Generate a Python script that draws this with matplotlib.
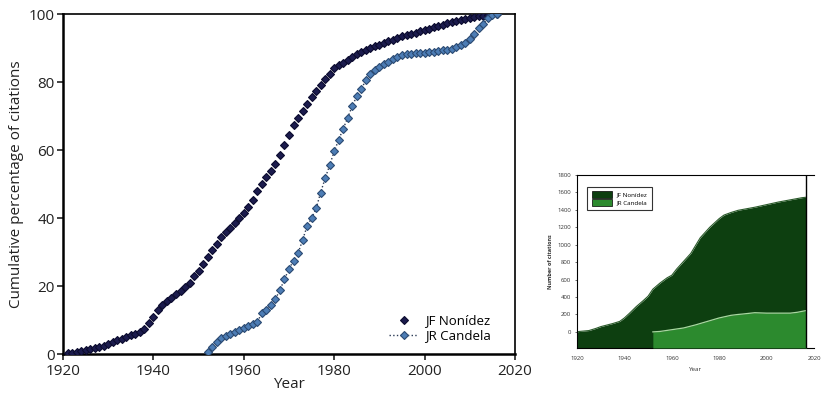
import matplotlib
matplotlib.use("Agg")
import matplotlib.pyplot as plt
from matplotlib import font_manager
from matplotlib.patches import Patch

names = {f.name for f in font_manager.fontManager.ttflist}
main_font = [f for f in ["Liberation Sans Narrow", "Open Sans", "DejaVu Sans"] if f in names]
plt.rcParams['font.family'] = main_font

# ---------------- data: cumulative percentage (main panel) ----------------
nonidez_years = list(range(1921, 2017))
nonidez_pct = [0.2, 0.4, 0.7, 0.9, 1.2, 1.5, 1.8, 2.1, 2.5, 3.0,
               3.5, 4.0, 4.5, 5.0, 5.5, 6.0, 6.6, 7.4, 9.0, 11.0,
               13.0, 14.5, 15.6, 16.6, 17.6, 18.5, 19.8, 21.0, 22.8, 24.5,
               26.5, 28.5, 30.5, 32.5, 34.4, 35.8, 37.2, 38.6, 40.0, 41.5,
               43.2, 45.3, 47.8, 50.0, 52.0, 53.8, 56.0, 58.5, 61.5, 64.3,
               67.3, 69.5, 71.5, 73.5, 75.5, 77.3, 79.0, 80.8, 82.5, 84.2,
               84.9, 85.6, 86.4, 87.3, 88.1, 88.8, 89.4, 90.0, 90.5, 91.0,
               91.5, 92.0, 92.5, 93.0, 93.4, 93.8, 94.2, 94.5, 94.9, 95.3,
               95.7, 96.1, 96.5, 96.9, 97.3, 97.7, 98.0, 98.3, 98.6, 98.8,
               99.0, 99.3, 99.5, 99.7, 99.9, 100.0]

candela_years = list(range(1952, 2017))
candela_pct = [0.7, 2.2, 3.4, 4.6, 5.3, 5.9, 6.5, 7.0, 7.6, 8.1,
               8.8, 9.5, 12.0, 13.0, 14.5, 16.2, 18.8, 22.0, 25.0, 27.5,
               29.6, 33.5, 37.6, 40.0, 42.8, 47.5, 51.7, 55.5, 59.6, 63.0,
               66.3, 69.5, 73.0, 75.8, 78.0, 80.5, 82.3, 83.5, 84.4, 85.2,
               86.0, 86.7, 87.3, 87.8, 88.1, 88.3, 88.4, 88.5, 88.6, 88.8,
               88.9, 89.1, 89.3, 89.5, 89.8, 90.2, 90.8, 91.6, 92.6, 94.2,
               95.8, 97.2, 98.8, 99.6, 100.0]

# ---------------- data: number of citations (small panel) ----------------
count_years_n = [1920, 1921, 1925, 1928, 1930, 1935, 1938, 1940, 1942, 1945,
                 1948, 1950, 1952, 1955, 1958, 1960, 1962, 1965, 1968, 1970,
                 1972, 1974, 1976, 1978, 1980, 1982, 1985, 1988, 1990, 1995,
                 2000, 2005, 2010, 2015, 2016.8]
count_n = [0, 5, 15, 40, 60, 95, 120, 160, 210, 290,
           360, 410, 490, 560, 620, 650, 720, 810, 900, 990,
           1080, 1140, 1200, 1250, 1300, 1340, 1370, 1395, 1405, 1430,
           1460, 1490, 1515, 1540, 1545]
count_years_c = [1952, 1955, 1960, 1965, 1970, 1975, 1980, 1985, 1988, 1990,
                 1995, 2000, 2005, 2010, 2013, 2016.8]
count_c = [0, 5, 25, 45, 80, 120, 160, 190, 200, 205,
           220, 215, 215, 215, 225, 245]

main_ticks_x = [1920, 1940, 1960, 1980, 2000, 2020]
main_ticks_y = [0, 20, 40, 60, 80, 100]
small_ticks_x = [1920, 1940, 1960, 1980, 2000, 2020]
small_ticks_y = [0, 200, 400, 600, 800, 1000, 1200, 1400, 1600, 1800]

fig = plt.figure(figsize=(8.21, 3.95), dpi=100)

# ---------------- main panel ----------------
ax = fig.add_axes([63/821, 41/395, 452/821, 340/395])
ax.plot(nonidez_years, nonidez_pct, linestyle='none', marker='D', markersize=4.5,
        markerfacecolor='#1b1b4d', markeredgecolor='#0b0b2e', markeredgewidth=0.8,
        label='JF Nonídez', zorder=3)
ax.plot(candela_years, candela_pct, linestyle=':', color='#2a3a55', linewidth=1.0,
        marker='D', markersize=4.5, markerfacecolor='#4d7db5', markeredgecolor='#2b4a72',
        markeredgewidth=0.8, label='JR Candela', zorder=3)
ax.set_xlim(1920, 2020)
ax.set_ylim(0, 100)
ax.set_xticks(main_ticks_x)
ax.set_yticks(main_ticks_y)
ax.tick_params(direction='out', length=4, width=1.2, labelsize=11, colors='#222222')
ax.tick_params(axis='x', pad=3)
ax.tick_params(axis='y', pad=2)
for s in ['left', 'bottom']:
    ax.spines[s].set_linewidth(1.8)
for s in ['top', 'right']:
    ax.spines[s].set_linewidth(1.2)
ax.set_xlabel('Year', fontsize=11, labelpad=-1, color='#222222')
ax.set_ylabel('Cumulative percentage of citations', fontsize=11, labelpad=3, color='#222222')
leg = ax.legend(loc='lower right', frameon=False, fontsize=9.5, handlelength=2.2,
                handletextpad=0.5, borderaxespad=0.6, labelspacing=0.15,
                bbox_to_anchor=(0.975, -0.005))

# ---------------- small panel ----------------
ax2 = fig.add_axes([577/821, 47/395, 237/821, 173/395])
ylow = -185
ax2.fill_between(count_years_n, ylow, count_n, color='#0d3f10', linewidth=0, zorder=1)
ax2.plot(count_years_n, count_n, color='#2a5a2a', linewidth=0.8, zorder=2)
ax2.fill_between(count_years_c, ylow, count_c, color='#2c8a2e', linewidth=0, zorder=3)
ax2.plot(count_years_c, count_c, color='#a8d8a0', linewidth=0.9, zorder=4)
ax2.axvline(2016.8, color='black', linewidth=1.0, zorder=5)
ax2.set_xlim(1920, 2020)
ax2.set_ylim(ylow, 1800)
ax2.set_xticks(small_ticks_x)
ax2.set_yticks(small_ticks_y)
ax2.tick_params(direction='out', length=1.5, width=0.5, labelsize=4.3, pad=3, colors='#333333')
ax2.tick_params(axis='x', length=0, pad=6)
ax2.spines['right'].set_visible(False)
for s in ['top', 'left', 'bottom']:
    ax2.spines[s].set_linewidth(0.8)
ax2.set_xlabel('Year', fontsize=4.5, labelpad=4, color='#333333')
ax2.set_ylabel('Number of citations', fontsize=4, labelpad=3, color='#333333', fontweight='bold')
handles = [Patch(facecolor='#0d3f10', edgecolor='black', linewidth=0.5, label='JF Nonídez'),
           Patch(facecolor='#2c8a2e', edgecolor='black', linewidth=0.5, label='JR Candela')]
lg2 = ax2.legend(handles=handles, loc='upper left', fontsize=4.5, frameon=True, fancybox=False,
                 edgecolor='black', handlelength=3.2, handleheight=1.2, borderpad=0.7,
                 labelspacing=0.3, bbox_to_anchor=(0.03, 0.95))
lg2.get_frame().set_linewidth(0.8)

fig.savefig('out.png', dpi=100, facecolor='white')
